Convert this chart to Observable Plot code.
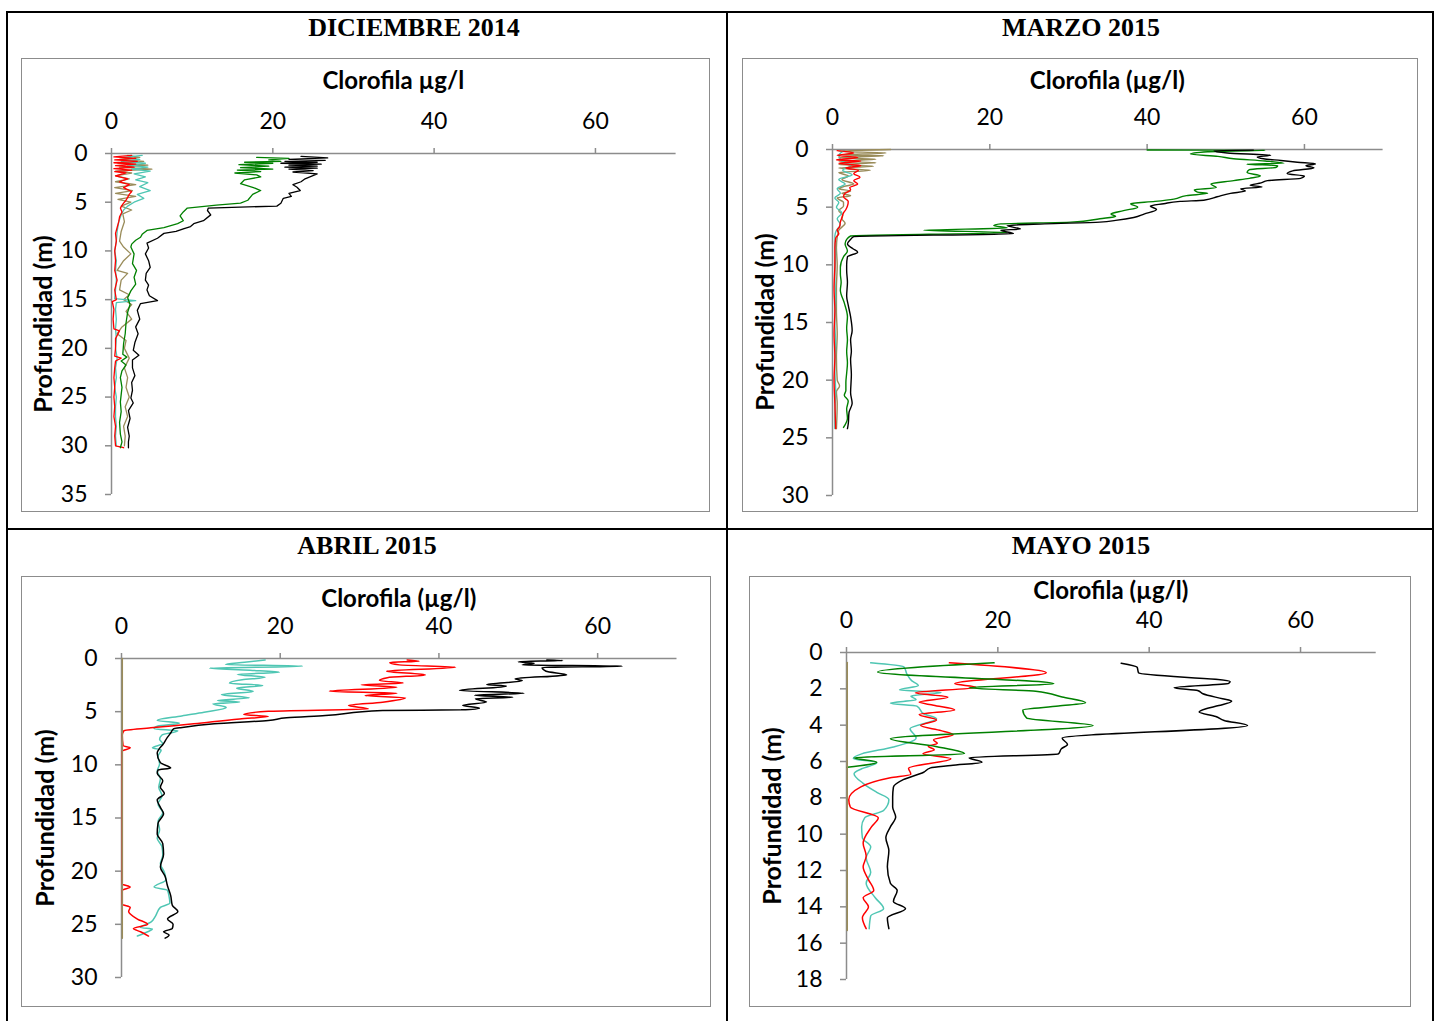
<!DOCTYPE html>
<html>
<head>
<meta charset="utf-8">
<script src="https://cdn.jsdelivr.net/npm/d3@7"></script>
<script src="https://cdn.jsdelivr.net/npm/@observablehq/plot@0.6"></script>
<style>
  body { margin: 0; background: #fff; }
  #page { position: relative; width: 1438px; height: 1021px; overflow: hidden; background: #fff; font-family: Lato, "Open Sans", sans-serif; }
  .rule { position: absolute; background: #000; }
  .cell-title { position: absolute; font-family: "Liberation Serif", "Times New Roman", serif; font-weight: bold; font-size: 26px; transform: translate(-50%, -50%); white-space: nowrap; line-height: 1; }
  .frame { position: absolute; border: 1.5px solid #8c8c8c; box-sizing: border-box; pointer-events: none; }
  .xtitle { position: absolute; font-family: Lato, sans-serif; font-weight: bold; font-size: 24px; transform: translate(-50%, -50%); white-space: nowrap; line-height: 1; }
  .ytitle { position: absolute; font-family: Lato, sans-serif; font-weight: bold; font-size: 25px; transform: translate(-50%, -50%) rotate(-90deg); white-space: nowrap; line-height: 1; }
  .plotbox { position: absolute; }
</style>
</head>
<body>
<div id="page"></div>
<script>
// Chlorophyll profiles, [depth (m), chlorophyll (µg/l)], one array per station colour.

// ---------- December 2014 ----------
const dicOlive = [[0.2,2],[0.4,3.5],[0.6,1],[0.8,4],[1.0,0.8],[1.2,4.5],[1.4,1],[1.6,5],[1.8,0.5],[2.0,2.5],[2.3,0.5],[2.6,2.2],[2.9,0.5],[3.2,3],[3.5,0.4],[3.8,2.6],[4.1,0.5],[4.4,3],[4.7,0.8],[5.0,2.4],[5.4,1.2],[5.8,2.5],[6.2,1.4],[7,1.6],[8,1.2],[9,1.0],[9.6,1.5],[10.3,2.4],[11,1.5],[12,0.7],[12.3,2.0],[13,1.2],[14,1],[14.5,2.2],[15,1.5],[15.5,2.5],[16.2,1.8],[17,2.5],[17.8,1.3],[18.5,0.7],[19.2,1.8],[20,1.6],[21,2.2],[22,1.6],[23,2],[24,1.8],[25,2.2],[26,1.7],[27,2],[28,1.5],[29,1.7],[30,1.6]];
const dicTurq = [[0.2,3.8],[0.4,1.5],[0.6,3.5],[0.8,1.2],[1.0,4.2],[1.2,2],[1.4,4.5],[1.6,2.5],[1.8,4.8],[2.1,2.8],[2.4,4.2],[2.7,3],[3.0,4.5],[3.4,3.5],[3.8,4.8],[4.2,3.2],[4.6,4],[5.0,2.8],[5.4,2],[5.8,1.5],[6.3,1.2],[7,0.9],[8,0.7],[9,0.6],[10,0.4],[11,0.6],[12,0.5],[13,0.6],[14,0.5],[14.9,0.4],[15.1,3],[15.3,0.6],[16,0.5],[17,0.6],[18,0.5],[19,0.6],[20,0.5],[21,0.7],[22,0.5],[23,0.6],[24,0.4],[25,0.6],[26,0.5],[27,0.5],[28,0.6],[29,0.5],[30,0.6]];
const dicRed = [[0.2,2.5],[0.35,0.3],[0.5,3],[0.65,0.4],[0.8,3.2],[0.95,0.3],[1.1,3],[1.25,0.5],[1.4,2.8],[1.55,0.3],[1.7,2.5],[1.85,0.4],[2.0,1.8],[2.3,0.5],[2.6,2],[2.9,1],[3.2,2.2],[3.5,1.5],[3.9,2.5],[4.2,2.2],[4.5,2],[4.8,1.8],[5.2,1.4],[5.6,1.1],[6.0,1.3],[6.5,1],[7.0,0.9],[7.6,0.7],[8.2,0.5],[9,0.6],[10,0.4],[11,0.5],[12,0.4],[13,0.7],[14,0.4],[15,0.6],[15.2,0.1],[16,0.3],[17,0.2],[18,0.3],[18.2,1],[19,0.5],[20,0.5],[20.8,0.4],[21,1.2],[21.3,0.5],[22,0.4],[23,0.3],[24,0.4],[25,0.3],[26,0.4],[27,0.3],[28,0.5],[29,0.4],[30,0.5],[30.2,1.5]];
const dicGreen = [[0.4,18],[0.5,22],[0.65,19.5],[0.8,21],[0.9,16.5],[1.0,20],[1.15,15.8],[1.3,19.5],[1.45,16],[1.6,20],[1.7,15.6],[1.85,18.5],[2.0,15.3],[2.2,18],[2.4,18.5],[2.7,16.5],[3.1,16],[3.5,17.6],[3.8,18.5],[4.2,17.5],[4.8,16.9],[5.1,16],[5.3,13],[5.6,9.4],[6.0,8.9],[6.4,8.5],[6.9,8.9],[7.2,8.2],[7.6,6.5],[7.9,4.4],[8.3,3.8],[8.6,3.6],[8.9,3],[9.3,2.5],[9.6,2.4],[10.3,2.8],[11.3,2.6],[12,3.1],[12.7,2.8],[13.4,3],[14.1,2.4],[14.8,2],[15.5,2.3],[16.3,2],[17.4,1.8],[18.5,1.7],[19.5,1.5],[20.6,1.4],[20.9,1.9],[21.3,1.2],[21.7,1.8],[22.3,1.3],[23,1.1],[24,1.3],[25.5,1.1],[26.5,1.2],[27.6,1.0],[28.8,1.1],[29.6,1.3],[30.2,1.1]];
const dicBlack = [[0.3,23.5],[0.45,26.8],[0.6,22],[0.7,26.5],[0.8,21.5],[0.9,25.5],[1.0,21],[1.1,26],[1.2,22],[1.3,25.5],[1.4,21.5],[1.5,25.5],[1.6,22],[1.75,25],[1.9,22.5],[2.1,25.5],[2.3,24.9],[2.6,24],[2.9,23.5],[3.2,22.5],[3.46,23],[3.8,23.4],[4.1,22],[4.4,22.3],[4.6,21.3],[5.1,21],[5.4,20.5],[5.6,12],[5.85,11.9],[6.3,12.3],[6.9,11.4],[7.2,10.2],[7.5,9.8],[7.7,9],[8.0,8],[8.2,6.5],[8.7,5.7],[9.2,4.4],[9.7,4.6],[10.3,4.2],[11,4.6],[11.7,4.8],[12.3,4.3],[13,4.2],[13.5,4.6],[14,4.4],[14.6,4.7],[15.1,5.7],[15.4,3.6],[16.1,3.2],[17,3.5],[17.8,3],[18.5,3.3],[19.4,2.9],[20.2,2.7],[20.7,3.4],[21.2,2.6],[22,2.6],[22.8,2.9],[23.5,2.5],[24.3,2.6],[25.1,2.4],[25.6,2.7],[26.4,2.1],[27.2,2.3],[28.1,2.0],[29,2.2],[29.6,2.1],[30.2,2.1]];

// ---------- March 2015 ----------
const marOlive = [[0.0,7.4],[0.15,0.8],[0.3,6.8],[0.45,0.8],[0.55,6.5],[0.7,0.8],[0.85,5.5],[1.0,0.8],[1.15,5.5],[1.3,0.8],[1.45,5.2],[1.6,0.8],[1.8,4.8],[2.0,0.8],[2.3,2],[2.6,1.2],[3.0,2.7],[3.2,1.5],[3.4,0.8],[3.6,2.3],[3.8,1.2],[4.0,2.3],[4.2,0.6],[4.6,1.4],[4.9,1.4],[5.3,0.8],[5.7,1.3],[6.0,1.2],[6.4,1.6],[7.0,0.8],[7.6,0.6],[8.5,0.5],[10,0.6],[12,0.5],[14,0.5],[16,0.6],[18,0.5],[20,0.6],[20.5,0.9],[21,0.5],[22,0.6],[24.2,0.5]];
const marTurq = [[0.1,1.5],[0.5,0.8],[1.0,1.2],[1.4,2.3],[1.8,1.3],[2.2,2.5],[2.6,0.8],[3.0,1.6],[3.4,0.6],[3.8,1.0],[4.2,0.3],[4.6,0.8],[5.0,0.5],[5.5,1.2],[6.0,0.6],[6.5,1.0],[7.0,0.5],[7.5,0.3],[9,0.4],[11,0.3],[13,0.4],[15,0.3],[17,0.4],[19,0.3],[21,0.4],[23,0.3],[24.2,0.3]];
const marRed = [[0.1,0.6],[0.3,2.7],[0.5,0.6],[0.7,3.2],[0.9,0.5],[1.0,3.6],[1.2,0.8],[1.4,3.6],[1.6,1.7],[1.8,3.3],[2.1,2.7],[2.4,3.5],[2.7,2.7],[3.0,3.2],[3.3,2.2],[3.5,2.3],[3.8,1.6],[4.1,1.4],[4.5,2.0],[4.9,1.9],[5.2,1.7],[5.5,1.4],[5.9,1.2],[6.3,1.0],[6.7,0.9],[7.0,0.6],[7.3,0.8],[7.7,0.4],[8.5,0.3],[10,0.3],[12,0.2],[14,0.3],[16,0.2],[18,0.3],[20,0.2],[22,0.3],[24.2,0.4]];
const marGreen = [[0.04,40],[0.07,55],[0.2,47.7],[0.4,45.5],[0.6,49],[0.8,51],[1.0,55],[1.2,57.4],[1.27,52.7],[1.4,56.6],[1.55,56.4],[1.75,53],[2.0,52.7],[2.3,54.4],[2.5,53],[2.7,51],[3.0,48.1],[3.3,48.8],[3.5,46],[3.7,46.4],[3.8,47.7],[4.0,45],[4.3,43.4],[4.5,41],[4.7,37.9],[5.0,38.8],[5.3,37],[5.6,35.4],[5.8,36],[6.0,34],[6.3,30.3],[6.45,21.4],[6.6,20.5],[6.8,22.2],[7.0,11.6],[7.2,22.2],[7.5,2.3],[7.8,1.8],[8.2,1.6],[8.8,1.9],[9.3,1.4],[10.2,1.0],[10.8,1.0],[11.5,1.1],[12.2,1.0],[13.3,1.5],[14.5,1.9],[15.5,1.8],[16.5,1.9],[17.5,1.8],[18.5,1.9],[19.4,1.8],[20.2,1.7],[20.9,1.7],[21.3,1.5],[21.8,2.0],[22.5,1.8],[23.3,1.9],[24.1,1.4]];
const marBlack = [[0.05,53.5],[0.1,48.5],[0.3,50.2],[0.5,55.7],[0.65,54],[0.8,54.8],[0.95,57],[1.1,59.1],[1.25,61.4],[1.4,60.2],[1.6,61.2],[1.85,58.5],[2.1,57.8],[2.3,60],[2.5,59.5],[2.7,55.3],[2.9,54.5],[3.1,53.1],[3.25,54.6],[3.4,51.9],[3.6,52.5],[3.8,50.6],[4.1,48.9],[4.4,47.2],[4.5,44.2],[4.7,42.1],[4.9,40.4],[5.2,41.2],[5.6,39.6],[5.9,38.3],[6.15,36],[6.3,34],[6.45,27],[6.6,22.2],[6.9,23.9],[7.0,21.4],[7.3,23],[7.55,2.7],[7.8,2.3],[8.2,1.9],[8.6,2.6],[8.9,3.2],[9.3,1.9],[10,1.8],[10.5,1.8],[11.5,1.9],[12.7,1.8],[13.5,2.0],[14.5,2.3],[15.7,2.5],[16.5,2.3],[17.5,2.4],[18.2,2.3],[19.5,2.4],[21.1,2.3],[22,2.5],[22.8,2.1],[23.8,2.0],[24.2,1.9]];

// ---------- April 2015 ----------
const abrOlive = [[0,0.1],[6,0.1],[12,0.1],[18,0.1],[24,0.1],[26.3,0.1]];
const abrTurq = [[0.13,18.1],[0.35,15.5],[0.56,13.1],[0.72,22.8],[0.91,11.1],[1.1,16.2],[1.29,19.9],[1.5,14.6],[1.76,18.1],[2.0,15.2],[2.32,13.6],[2.54,17.8],[2.79,14.5],[3.1,16.6],[3.4,12.6],[3.7,16.1],[3.95,12.1],[4.1,14.9],[4.26,11.5],[4.6,13.2],[5.05,10.4],[5.4,7.6],[5.83,4.5],[6.08,7.3],[6.35,4.6],[6.6,4.1],[6.8,7.1],[7.2,5.1],[7.6,4.8],[8.0,5.2],[8.4,3.9],[8.6,5.0],[9.2,4.6],[9.9,4.8],[10.6,4.5],[11.3,4.9],[12.1,4.7],[12.9,5.1],[13.7,4.6],[14.5,5.2],[15.3,4.6],[16.1,4.8],[16.9,4.5],[17.7,5.1],[18.5,5.2],[19.3,4.9],[20.1,5.4],[20.8,5.6],[21.5,4.1],[21.8,5.8],[22.4,6.0],[23.0,6.1],[23.4,4.9],[24.2,4.3],[24.8,3.7],[25.3,2.4],[25.45,3.9],[25.7,3.3],[26.1,2.0]];
const abrRed = [[0.13,36],[0.25,37.5],[0.38,33.8],[0.6,35],[0.82,42.1],[1.19,33.4],[1.54,38.3],[1.8,33.5],[2.07,32.5],[2.3,35.5],[2.48,30.2],[2.70,34.7],[3.07,26.2],[3.26,34.7],[3.48,30.7],[3.70,35.8],[4.11,32.9],[4.42,28.6],[4.74,31.1],[4.96,18.5],[5.27,15.4],[5.46,18.5],[5.68,14.9],[6.14,9.1],[6.52,3.7],[6.8,0.3],[7.2,0.1],[8.2,0.2],[8.4,1.1],[8.7,0.1],[12,0.1],[16,0.1],[21.2,0.1],[21.5,1.1],[21.8,0.1],[23.1,0.1],[23.4,1.1],[23.8,0.9],[24.5,2.0],[25.0,3.3],[25.4,1.5],[25.7,2.4],[26.1,3.4]];
const abrBlack = [[0.13,53.6],[0.19,55.6],[0.3,50],[0.44,52],[0.6,50.5],[0.72,63.1],[0.85,53],[1.2,53.5],[1.54,56.1],[1.91,49.6],[2.1,50.5],[2.45,46],[2.6,48.5],[3.01,42.6],[3.26,50.7],[3.45,44.5],[3.64,49.3],[3.79,44.6],[4.1,46],[4.42,43],[4.67,45.1],[4.83,42.8],[4.89,32.9],[5.36,25.7],[5.58,20.8],[5.83,18.5],[6.14,11.7],[6.52,7.3],[6.6,6.6],[7.0,6.2],[7.4,5.8],[8.0,5.3],[8.9,4.5],[9.8,4.9],[10.3,6.2],[10.5,4.6],[10.8,4.5],[11.5,5.2],[12.1,4.9],[12.7,5.4],[13.3,4.5],[14,4.9],[14.6,5.3],[15.5,4.6],[16.5,4.5],[17.4,5.2],[18.4,5.3],[19.6,4.9],[20.5,5.5],[21.4,5.8],[22.3,6.2],[23.2,6.4],[23.8,7.1],[24.5,5.8],[25,6.5],[25.4,6.4],[25.7,5.3],[26,6],[26.3,5.5]];

// ---------- May 2015 ----------
const mayOlive = [[0.55,0.1],[4,0.1],[8,0.1],[12,0.1],[15.3,0.1]];
const mayTurq = [[0.57,3.2],[0.8,7.6],[1.2,8.0],[1.55,8.6],[1.82,9.5],[2.06,7.0],[2.2,12.5],[2.4,8.5],[2.6,9.2],[2.79,5.8],[2.95,9.3],[3.37,10.2],[3.65,11.9],[4.2,8.4],[4.7,9.2],[5.2,6.2],[5.58,2.0],[5.83,0.9],[6.07,4.0],[6.4,2.0],[6.67,1.0],[7.2,2.2],[7.7,4.0],[8.1,5.6],[8.7,4.9],[9.1,2.4],[9.6,2.0],[10.2,2.1],[10.7,3.2],[11.3,2.6],[12.1,3.2],[12.7,2.6],[13.5,3.8],[14.1,4.9],[14.5,3.2],[15.2,3.0]];
const mayRed = [[0.57,13.6],[1.12,26.4],[1.72,14.3],[1.91,17.1],[2.22,9.1],[2.46,13.4],[2.73,9.6],[2.9,11.5],[3.16,14.3],[3.41,9.6],[3.71,11.9],[4.02,9.8],[4.3,12.5],[4.53,14.1],[4.81,11.5],[5.0,12.0],[5.17,10.8],[5.35,11.6],[5.58,10.1],[5.85,13.8],[6.37,8.2],[6.7,8.5],[6.9,5.8],[7.4,1.9],[8.1,0.3],[8.5,0.5],[9.1,4.2],[9.6,3.3],[10.5,2.2],[11.2,2.6],[11.8,2.2],[12.5,2.9],[13.1,3.6],[13.5,2.2],[14.0,2.9],[14.6,2.1],[15.2,2.6]];
const mayGreen = [[0.57,19.5],[1.08,4.1],[1.72,27.4],[1.94,16.2],[2.13,25.0],[2.45,28.5],[2.77,31.6],[2.95,28],[3.16,23.3],[3.6,23.8],[4.02,32.6],[4.75,5.8],[5.17,11.8],[5.58,15.6],[5.8,1.0],[6.04,4.0],[6.31,0.1]];
const mayBlack = [[0.59,36.3],[0.81,38.4],[1.12,38.6],[1.6,50.7],[1.7,50.5],[1.94,43.3],[2.09,46.4],[2.27,47.1],[2.55,49.7],[2.68,50.9],[2.92,49.2],[3.1,47.5],[3.28,46.6],[3.52,48.8],[3.74,49.9],[4.02,53],[4.71,28.5],[5.06,29.2],[5.3,28.4],[5.58,28],[5.8,16.2],[6.04,17.9],[6.22,13.8],[6.35,11.1],[6.59,10.2],[7.0,7.5],[7.41,6.2],[7.96,6.1],[8.5,6.1],[9.06,6.5],[9.6,5.8],[10.2,5.2],[10.9,5.6],[11.8,5.4],[12.7,5.8],[13.1,6.7],[13.7,6.2],[14.1,7.8],[14.6,5.4],[15.2,5.6]];

// ---------- Axis ticks and labels ----------
const chlTicks = [0, 20, 40, 60];
const depthTicks35 = [0, 5, 10, 15, 20, 25, 30, 35];
const depthTicks30 = [0, 5, 10, 15, 20, 25, 30];
const depthTicks18 = [0, 2, 4, 6, 8, 10, 12, 14, 16, 18];
const panelTitles = ["DICIEMBRE 2014", "MARZO 2015", "ABRIL 2015", "MAYO 2015"];
const xTitles = ["Clorofila µg/l", "Clorofila (µg/l)", "Clorofila (µg/l)", "Clorofila (µg/l)"];
const yTitle = "Profundidad (m)";

// ---------- Styling ----------
const colors = { olive: "#9a8c5a", turq: "#4fc6b3", red: "#ff0000", green: "#008000", black: "#000000" };
const axisGray = "#8c8c8c";

// Layout of the four cells: frame = [left, top, right, bottom], plot area = x0..xEnd, y0..yEnd (page px)
const panels = [
  { title: panelTitles[0], tx: 414, ty: 28, frame: [21, 58, 710, 512], x0: 111, xEnd: 675.6, y0: 153, yEnd: 494, depthMax: 35, yTicks: depthTicks35, xTitle: xTitles[0], xty: 80, ytx: 42, curve: "linear", width: 1.3,
    series: [[dicOlive, colors.olive], [dicTurq, colors.turq], [dicRed, colors.red], [dicGreen, colors.green], [dicBlack, colors.black]] },
  { title: panelTitles[1], tx: 1081, ty: 28, frame: [742, 58, 1418, 512], x0: 832, xEnd: 1382.6, y0: 149, yEnd: 495, depthMax: 30, yTicks: depthTicks30, xTitle: xTitles[1], xty: 80, ytx: 764, curve: "monotone-y", width: 1.4,
    series: [[marOlive, colors.olive], [marTurq, colors.turq], [marRed, colors.red], [marGreen, colors.green], [marBlack, colors.black]] },
  { title: panelTitles[2], tx: 367, ty: 546, frame: [21, 576, 711, 1007], x0: 121, xEnd: 676.5, y0: 658, yEnd: 977, depthMax: 30, yTicks: depthTicks30, xTitle: xTitles[2], xty: 598, ytx: 44, curve: "monotone-y", width: 1.5,
    series: [[abrTurq, colors.turq], [abrRed, colors.red], [abrBlack, colors.black], [abrOlive, colors.olive]] },
  { title: panelTitles[3], tx: 1081, ty: 546, frame: [749, 576, 1411, 1007], x0: 846, xEnd: 1375.7, y0: 652, yEnd: 979, depthMax: 18, yTicks: depthTicks18, xTitle: xTitles[3], xty: 590, ytx: 771, curve: "monotone-y", width: 1.5,
    series: [[mayTurq, colors.turq], [mayRed, colors.red], [mayGreen, colors.green], [mayBlack, colors.black], [mayOlive, colors.olive]] }
];

const page = document.getElementById("page");
function addDiv(cls, css, text) {
  const d = document.createElement("div");
  d.className = cls;
  Object.assign(d.style, css);
  if (text != null) d.textContent = text;
  page.appendChild(d);
  return d;
}

// Table grid lines
addDiv("rule", { left: "6px", top: "11px", width: "1428px", height: "2px" });
addDiv("rule", { left: "6px", top: "528px", width: "1428px", height: "2px" });
addDiv("rule", { left: "6px", top: "11px", width: "2px", height: "1015px" });
addDiv("rule", { left: "726px", top: "11px", width: "2px", height: "1015px" });
addDiv("rule", { left: "1432px", top: "11px", width: "2px", height: "1015px" });

for (const p of panels) {
  const [fl, ft, fr, fb] = p.frame;
  addDiv("cell-title", { left: p.tx + "px", top: p.ty + "px" }, p.title);

  const marks = [
    Plot.ruleY([0], { stroke: axisGray, strokeWidth: 1.5 }),
    Plot.ruleX([0], { stroke: axisGray, strokeWidth: 1.5 }),
    Plot.axisX(chlTicks, { anchor: "top", tickSize: 6, tickPadding: 19, stroke: axisGray, strokeWidth: 1.5, fill: "#000", fontSize: 23, label: null }),
    Plot.axisY(p.yTicks, { anchor: "left", tickSize: 6, tickPadding: 18, stroke: axisGray, strokeWidth: 1.5, fill: "#000", fontSize: 23, label: null }),
    ...p.series.map(([data, color]) =>
      Plot.line(data, { x: (d) => d[1], y: (d) => d[0], stroke: color, strokeWidth: p.width, curve: p.curve }))
  ];

  const svg = Plot.plot({
    width: fr - fl,
    height: fb - ft,
    marginLeft: p.x0 - fl,
    marginRight: fr - p.xEnd,
    marginTop: p.y0 - ft,
    marginBottom: fb - p.yEnd,
    x: { domain: [0, 70] },
    y: { domain: [0, p.depthMax], reverse: true },
    style: { fontFamily: "Lato, sans-serif", fontSize: "23px", color: "#000", background: "transparent", overflow: "visible" },
    marks
  });
  const box = addDiv("plotbox", { left: fl + "px", top: ft + "px", width: (fr - fl) + "px", height: (fb - ft) + "px" });
  box.appendChild(svg);

  addDiv("frame", { left: fl + "px", top: ft + "px", width: (fr - fl) + "px", height: (fb - ft) + "px" });
  addDiv("xtitle", { left: ((p.x0 + p.xEnd) / 2) + "px", top: p.xty + "px" }, p.xTitle);
  addDiv("ytitle", { left: p.ytx + "px", top: ((p.y0 + p.yEnd) / 2) + "px" }, yTitle);
}
</script>
</body>
</html>
